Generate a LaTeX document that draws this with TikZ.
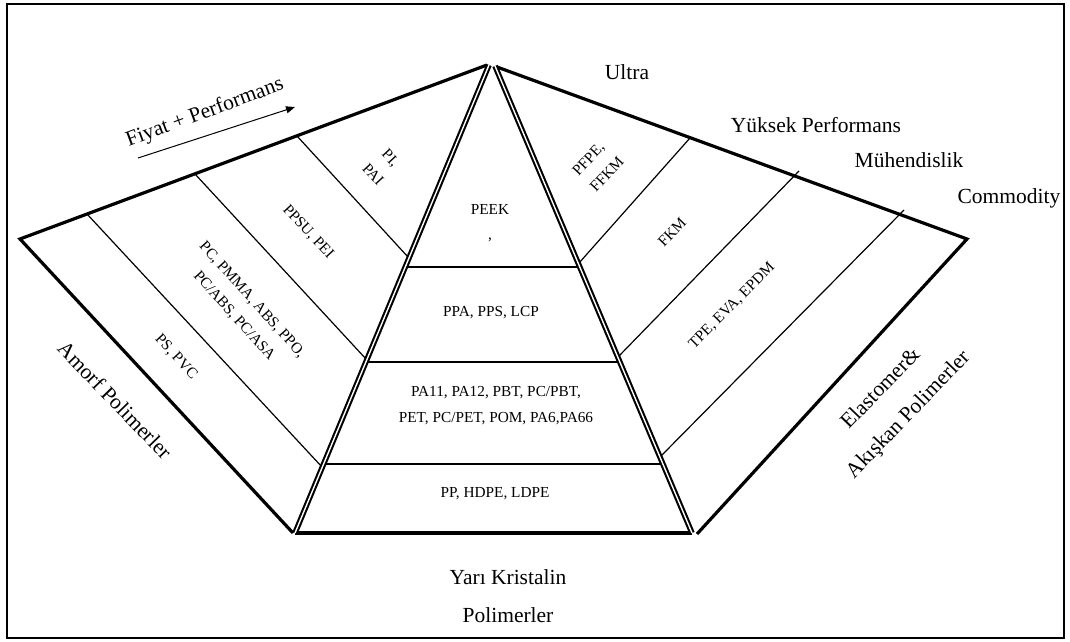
\documentclass[tikz,border=0pt]{standalone}
\usepackage{fontspec}
\setmainfont{Liberation Serif}
\usetikzlibrary{arrows.meta}
\tikzset{
  frame/.style={draw, line width=2.6pt},
  wing/.style={draw, line width=3.2pt, line join=miter},
  pyredge/.style={draw, double, double distance=1.4pt, line width=2.1pt},
  divider/.style={draw, line width=1.2pt},
  lbl/.style={font=\fontsize{15.3pt}{24pt}\selectfont, align=center, inner sep=0pt},
  biglbl/.style={font=\fontsize{21.5pt}{38pt}\selectfont, align=center, inner sep=0pt},
  arrow/.style={-{Triangle[length=9pt, width=7pt]}, line width=1pt},
}

\begin{document}
\begin{tikzpicture}[x=1pt, y=-1pt]
  \useasboundingbox (0,0) rectangle (1070,642);
  \draw[frame] (7,4) rectangle (1064,638);
  % corners
  \coordinate (lt) at (20,239);
  \coordinate (lb) at (293,533);
  \coordinate (la) at (487,65);
  \coordinate (pal) at (489,65);
  \coordinate (par) at (495,66);
  \coordinate (pl) at (295,533);
  \coordinate (pr) at (692,533);
  \coordinate (ra) at (497,67);
  \coordinate (rt) at (967,239);
  \coordinate (rb) at (697,534);
  % dividers
  \foreach \xa/\ya/\xb/\yb in {87/214/322/467, 195/174/366/359, 297/136/408/257,
                               690/138/579/263, 799/171/618/357, 904/210/660/457}
    \draw[divider] (\xa,\ya) -- (\xb,\yb);
  \foreach \xa/\xb/\yy in {405/580/267, 366/620/362, 324/663/464}
    \draw[divider] (\xa,\yy) -- (\xb,\yy);
  % wings and pyramid
  \draw[wing] (lb) -- (lt) -- (la);
  \draw[wing] (ra) -- (rt) -- (rb);
  \draw[wing] (pl) -- (pr);
  \draw[pyredge] (pl) -- (pal);
  \draw[pyredge] (par) -- (pr);
  % price arrow
  \coordinate (fs) at (138,158);
  \coordinate (fe) at (295,107);
  \draw[arrow] (fs) -- (fe);
  \node[biglbl, rotate=20.3] (fiyat) at (205,113) {Fiyat + Performans};
  % left wing
  \node[lbl, rotate=-47] (pai) at (382,166) {PI,\\PAI};
  \node[lbl, rotate=-47] (ppsu) at (308,232) {PPSU, PEI};
  \node[lbl, rotate=-48] (pmma) at (243,308) {PC, PMMA, ABS, PPO,\\PC/ABS, PC/ASA};
  \node[lbl, rotate=-47] (pvc) at (176,357) {PS, PVC};
  \node[biglbl, rotate=-46] (amorf) at (115,400) {Amorf Polimerler};
  % pyramid
  \node[lbl, font=\fontsize{15.3pt}{25pt}\selectfont] (peek) at (490,223) {PEEK\\,};
  \node[lbl] (ppa) at (491,313) {PPA, PPS, LCP};
  \node[lbl, font=\fontsize{15.3pt}{26pt}\selectfont] (pa11) at (496,406) {PA11, PA12, PBT, PC/PBT,\\PET, PC/PET, POM, PA6,PA66};
  \node[lbl] (pp) at (495,494) {PP, HDPE, LDPE};
  \node[biglbl] (yari) at (508,596) {Yarı Kristalin\\Polimerler};
  % right wing
  \node[biglbl] (ultra) at (627,72) {Ultra};
  \node[biglbl] (yuksek) at (816,125) {Yüksek Performans};
  \node[biglbl] (muh) at (909,160) {Mühendislik};
  \node[biglbl] (comm) at (1009,198) {Commodity};
  \node[lbl, rotate=47, align=left] (pfpe) at (598,166) {PFPE,\\FFKM};
  \node[lbl, rotate=46] (fkm) at (672,232) {FKM};
  \node[lbl, rotate=45] (tpe) at (732,306) {TPE, EVA, EPDM};
  \node[biglbl, rotate=46] (elast) at (895,402) {Elastomer\&\\Akışkan Polimerler};
\end{tikzpicture}
\end{document}
